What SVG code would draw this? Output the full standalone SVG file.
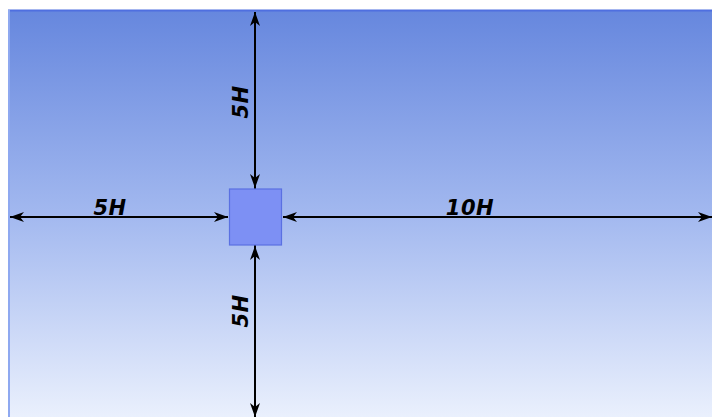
<svg xmlns="http://www.w3.org/2000/svg" width="712" height="417" viewBox="0 0 712 417">
<defs>
<linearGradient id="bg" x1="0" y1="0" x2="0" y2="1">
<stop offset="0" stop-color="#6687de"/>
<stop offset="0.5" stop-color="#a2b8ef"/>
<stop offset="1" stop-color="#eaf0fd"/>
</linearGradient>
<marker id="ah" viewBox="0 0 14 10" refX="14" refY="5" markerWidth="14" markerHeight="10" markerUnits="userSpaceOnUse" orient="auto">
<path d="M0,0 L14,5 L0,10 L4,5 Z" fill="#000"/>
</marker>
</defs>
<style>
.dim{stroke:#000;stroke-width:2;fill:none;marker-end:url(#ah)}
.lbl{font-family:"DejaVu Sans",sans-serif;font-weight:bold;font-style:italic;font-size:21px;letter-spacing:0.5px;fill:#000}
</style>
<rect x="0" y="0" width="712" height="417" fill="#fff"/>
<rect x="8" y="10" width="704" height="407" fill="url(#bg)"/>
<line x1="8" y1="10.5" x2="712" y2="10.5" stroke="#4f6fe0" stroke-width="2"/>
<line x1="9" y1="10" x2="9" y2="417" stroke="#8fa9f0" stroke-width="2"/>
<g id="connectors">
<line class="dim" x1="255" y1="217" x2="255" y2="12"/>
<line class="dim" x1="255" y1="100" x2="255" y2="188"/>
<line class="dim" x1="255" y1="217" x2="255" y2="417"/>
<line class="dim" x1="255" y1="330" x2="255" y2="246"/>
<line class="dim" x1="120" y1="217" x2="10" y2="217"/>
<line class="dim" x1="120" y1="217" x2="228" y2="217"/>
<line class="dim" x1="450" y1="217" x2="283" y2="217"/>
<line class="dim" x1="450" y1="217" x2="712" y2="217"/>
</g>
<g id="block">
<rect x="229.5" y="189" width="52" height="56" fill="#7d90f4" stroke="#5a70e2" stroke-width="1.2"/>
</g>
<g id="labels">
<text class="lbl" x="110" y="214.5" text-anchor="middle">5H</text>
<text class="lbl" x="470" y="214.5" text-anchor="middle">10H</text>
<text class="lbl" transform="translate(247.5,102) rotate(-90)" text-anchor="middle">5H</text>
<text class="lbl" transform="translate(247.5,311) rotate(-90)" text-anchor="middle">5H</text>
</g>
</svg>
